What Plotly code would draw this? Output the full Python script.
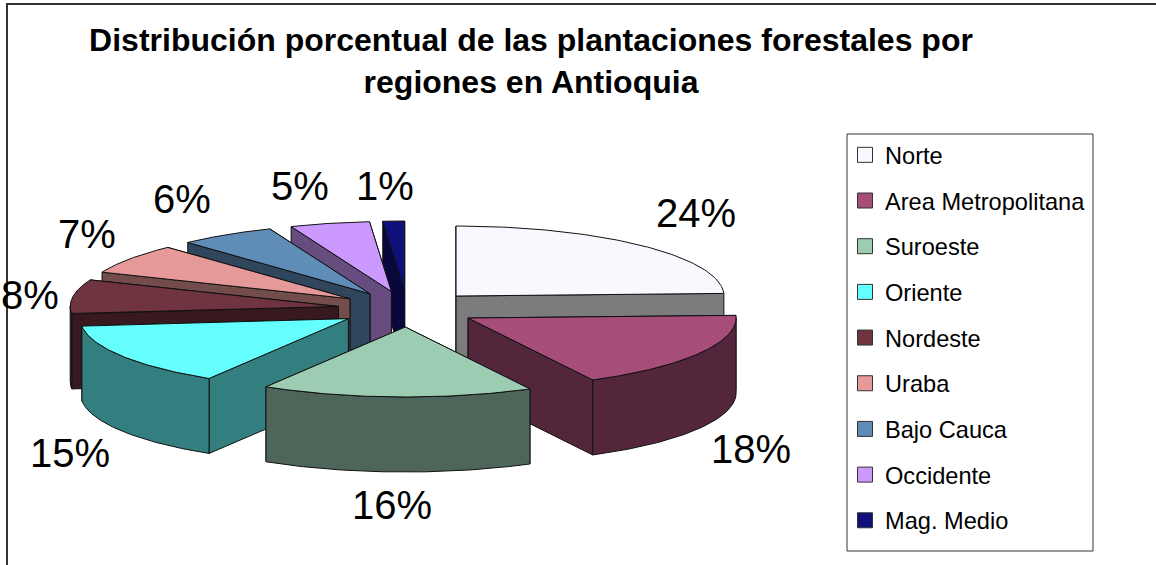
import numpy as np
import plotly.graph_objects as go

# ---- data ----
categories = ["Norte", "Area Metropolitana", "Suroeste", "Oriente", "Nordeste",
              "Uraba", "Bajo Cauca", "Occidente", "Mag. Medio"]
values = [24.4, 17.9, 16.4, 14.6, 7.9, 6.9, 5.8, 4.8, 1.3]
title_lines = ["Distribución porcentual de las plantaciones forestales por",
               "regiones en Antioquia"]

# ---- style ----
top_colors = ["#F8F8FF", "#A64D79", "#9CCCB2", "#66FFFF", "#703340",
              "#E69999", "#5F8DB8", "#CC99FF", "#10107A"]
label_xy = [(696, 217), (751, 453), (392, 509), (70, 457), (30, 299),
            (87, 238), (182, 203), (300, 190), (385, 190)]
paint_order = [8, 7, 6, 5, 4, 0, 3, 1, 2]
W, H = 1156, 565
CX, CY = 407.5, 309        # centre of the whole pie
RX, RY = 268, 70           # radius on screen
EX, EY = 70, 18            # explosion on screen
DEPTH = 75
LW = 1


def darken(c):
    r, g, b = (int(c[i:i + 2], 16) for i in (1, 3, 5))
    return f"rgb({r // 2},{g // 2},{b // 2})"


def poly(fig, xs, ys, color):
    fig.add_trace(go.Scatter(x=list(xs), y=list(ys), mode="lines", fill="toself",
                             fillcolor=color, line=dict(color="#111", width=LW),
                             hoverinfo="skip", showlegend=False))


fig = go.Figure()

total = sum(values)
edges = np.concatenate([[0], np.cumsum(values)]) / total * 360

for i in paint_order:
    a0, a1 = edges[i], edges[i + 1]
    mid = np.radians((a0 + a1) / 2)
    cx = CX + EX * np.sin(mid)
    cy = CY - EY * np.cos(mid)
    top, wall = top_colors[i], darken(top_colors[i])

    def pt(a):
        r = np.radians(a)
        return cx + RX * np.sin(r), cy - RY * np.cos(r)

    # cut faces, the one lower on the screen last
    faces = sorted([a0, a1], key=lambda a: pt(a)[1])
    for a in faces:
        px, py = pt(a)
        poly(fig, [cx, px, px, cx, cx], [cy, py, py + DEPTH, cy + DEPTH, cy], wall)

    # curved outer wall, only where it faces the viewer
    lo, hi = max(a0, 90), min(a1, 270)
    if hi > lo:
        t = np.linspace(lo, hi, 60)
        ax, ay = pt(t)
        poly(fig, np.r_[ax, ax[::-1], ax[0]], np.r_[ay, ay[::-1] + DEPTH, ay[0]], wall)

    # top surface
    t = np.linspace(a0, a1, 80)
    ax, ay = pt(t)
    poly(fig, np.r_[cx, ax, cx], np.r_[cy, ay, cy], top)

# percentage labels
fig.add_trace(go.Scatter(x=[p[0] for p in label_xy], y=[p[1] for p in label_xy],
                         mode="text", text=[f"{round(v)}%" for v in values],
                         textposition="middle center",
                         textfont=dict(family="Liberation Sans", size=40, color="black"),
                         hoverinfo="skip", showlegend=False))

# legend entries
for name, c in zip(categories, top_colors):
    fig.add_trace(go.Scatter(x=[None], y=[None], mode="markers", name=name,
                             legendgroup=name,
                             marker=dict(symbol="square", size=15, color=c,
                                         line=dict(color="#333", width=1))))

fig.update_layout(
    width=W, height=H, autosize=False,
    margin=dict(l=0, r=0, t=0, b=0),
    paper_bgcolor="white", plot_bgcolor="white",
    xaxis=dict(range=[0, W], visible=False, fixedrange=True),
    yaxis=dict(range=[H, 0], visible=False, fixedrange=True),
    title=dict(text="<b>" + "<br>".join(title_lines) + "</b>",
               x=531 / W, xanchor="center", xref="paper",
               y=1 - 51 / H, yanchor="middle", yref="paper",
               font=dict(family="Liberation Sans", size=32, color="black")),
    legend=dict(x=845 / W, y=1 - 133 / H, xanchor="left", yanchor="top",
                bgcolor="rgba(0,0,0,0)", borderwidth=0,
                font=dict(family="Liberation Sans", size=23.6, color="black"),
                tracegroupgap=12, itemwidth=30, itemclick=False, itemdoubleclick=False),
    shapes=[dict(type="rect", xref="x", yref="y", x0=7, y0=4, x1=1175, y1=580,
                 line=dict(color="#333", width=2), fillcolor="rgba(0,0,0,0)", layer="below"),
            dict(type="rect", xref="x", yref="y", x0=847, y0=134, x1=1093, y1=551,
                 line=dict(color="#333", width=1), fillcolor="white", layer="below")],
    hovermode=False,
)

fig.write_html("out.html", config=dict(displayModeBar=False),
               post_script="document.body.style.margin='0';document.documentElement.style.overflow='hidden';")
